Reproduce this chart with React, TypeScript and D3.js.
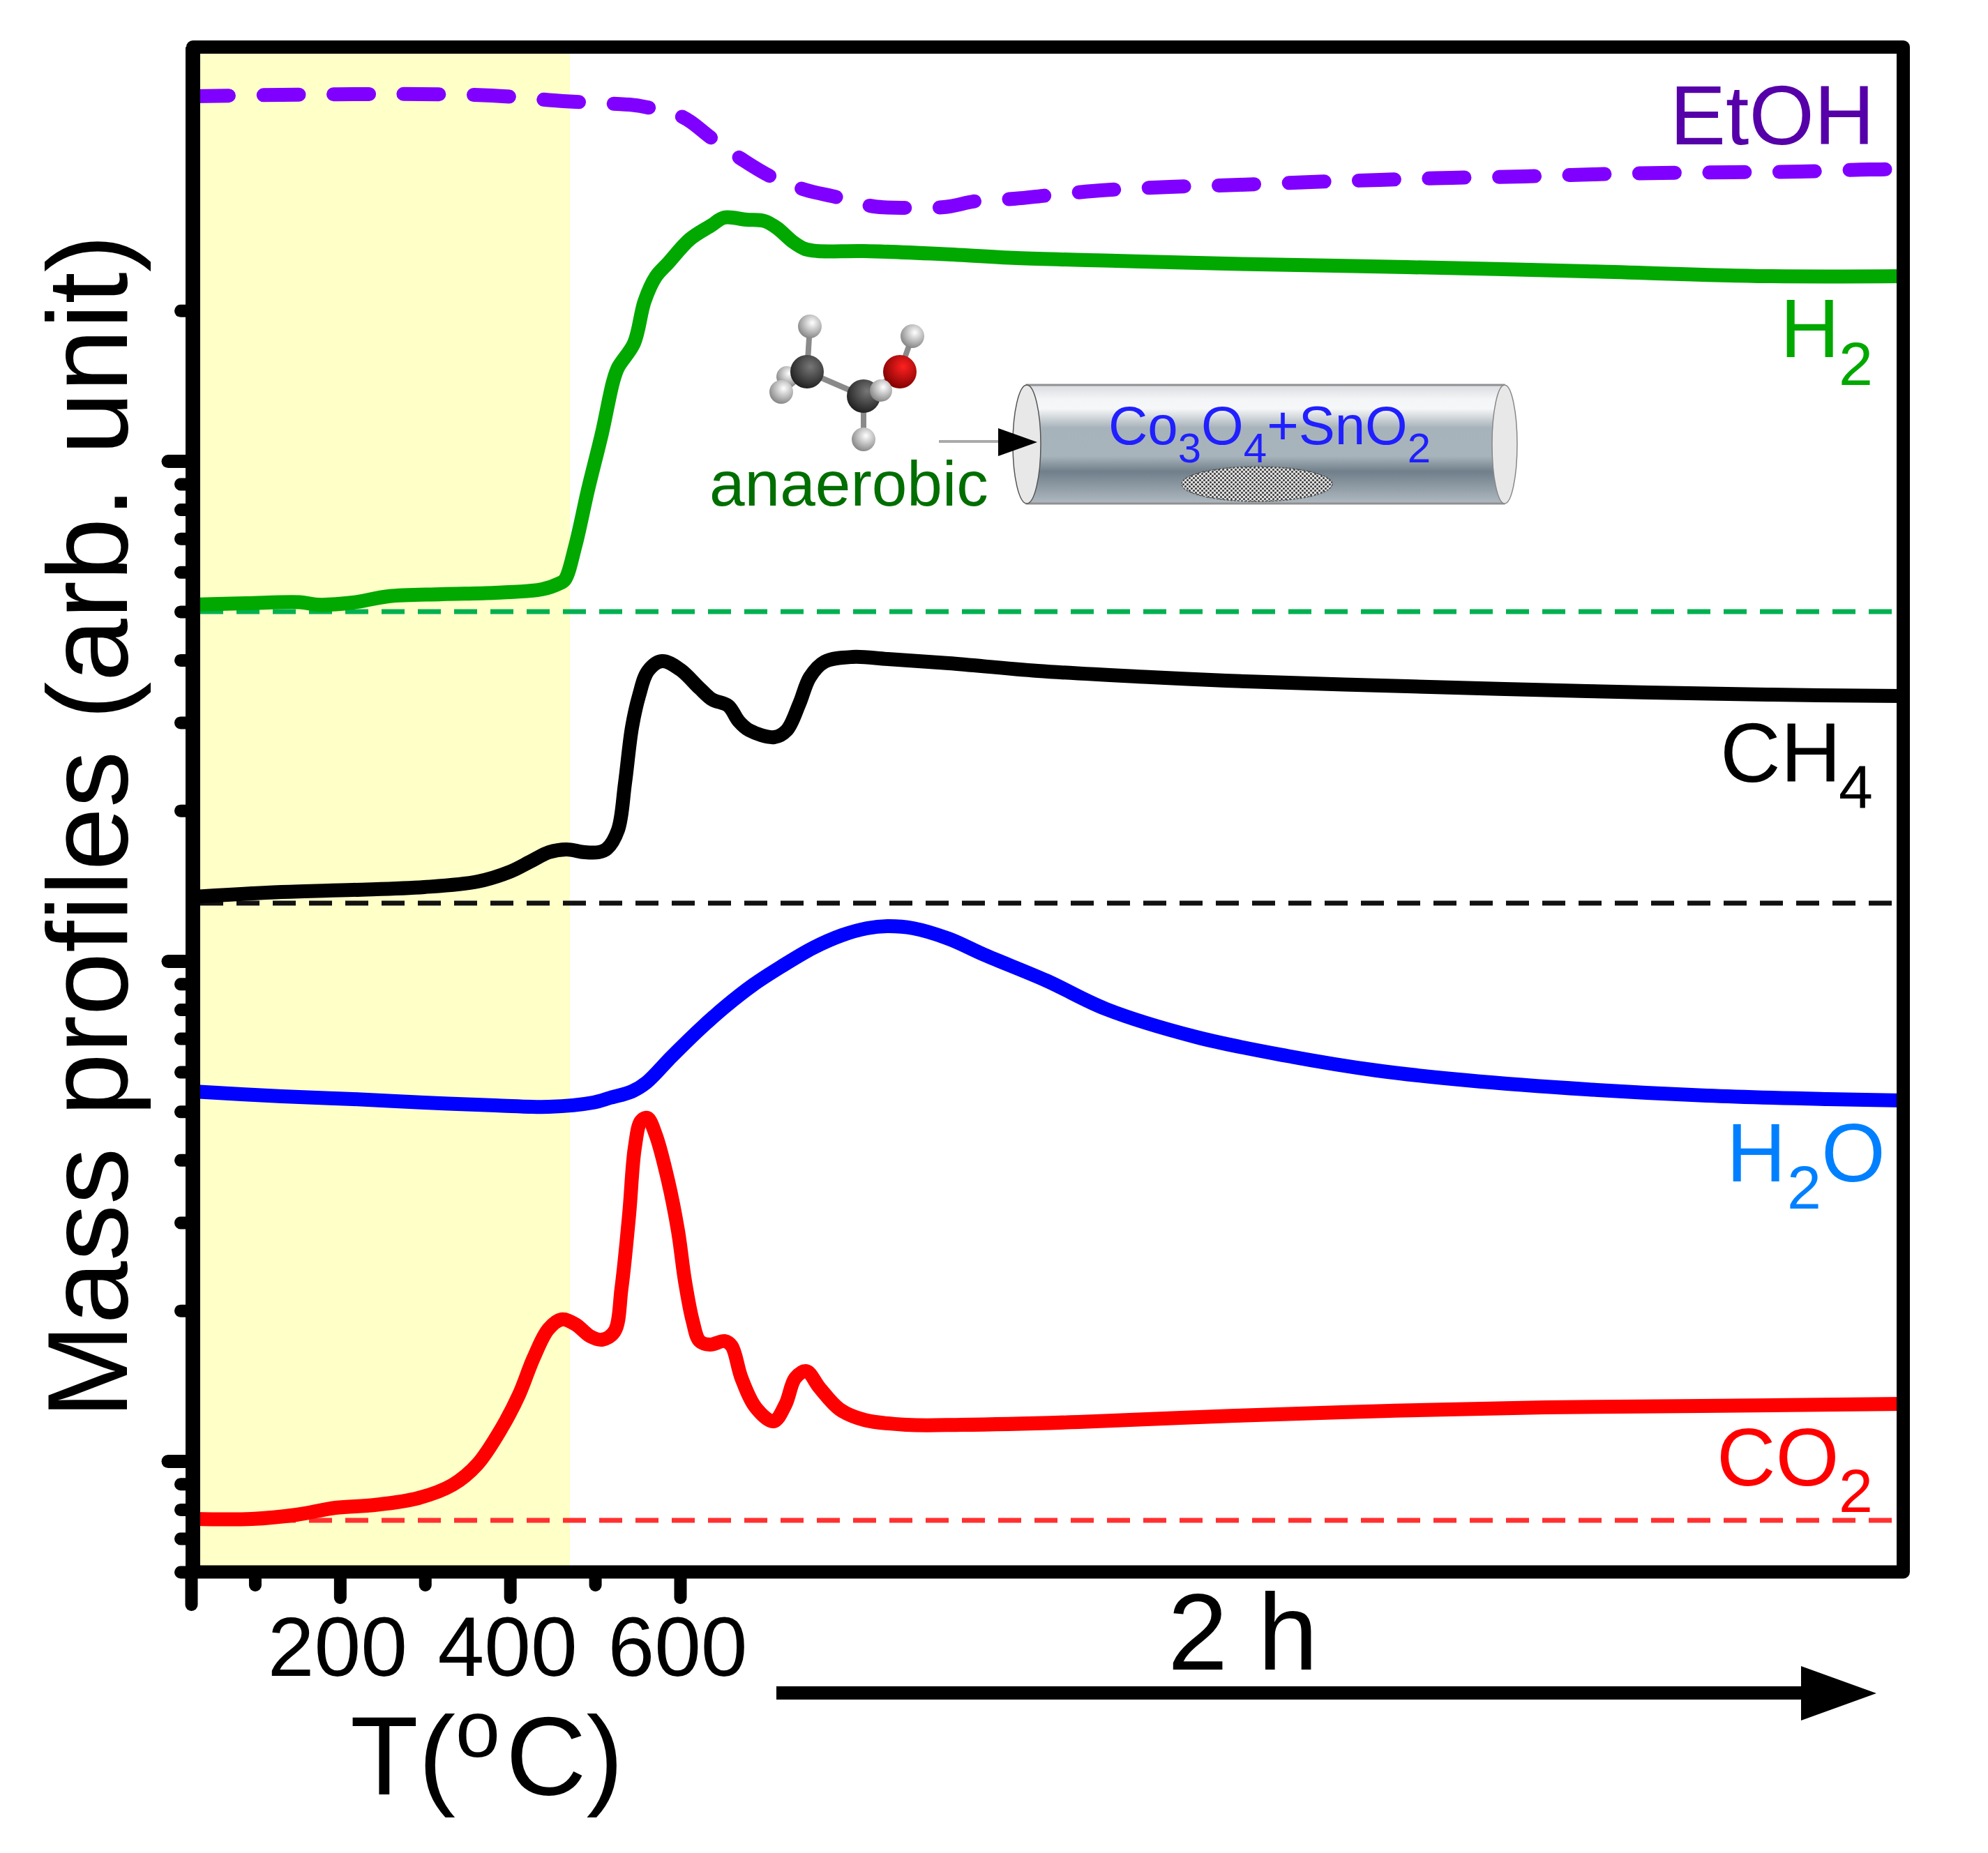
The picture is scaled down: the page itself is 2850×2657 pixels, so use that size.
import { useEffect, useRef } from "react";
import * as d3 from "d3";

type Pt = [number, number];

// x = position along the run (axis units), y = signal height (axis units)
const etohPoints: Pt[] = [[3,2116],[130,2118],[232,2119],[329,2119],[431,2117],[533,2109],[633,2103.5],[644,2102],[705,2086],[746,2056],[789,2026],[831,2001],[880,1982],[927,1971],[979,1958],[1028,1956],[1079,1957],[1128,1966],[1180,1969],[1229,1974],[1280,1979],[1304,1981],[1403,1986],[1502,1989],[1605,1993],[1704,1996],[1807,1999],[1911,2001],[2010,2004],[2109,2006],[2208,2007],[2307,2008],[2406,2011],[2454,2011]];
const h2Points: Pt[] = [[3,1387],[79,1389],[156,1390.5],[181,1387],[232,1390],[283,1399],[360,1402],[436,1404],[503,1409],[528,1417.5],[536,1423],[551,1472],[569,1552],[589,1633],[605,1707],[612,1727],[635,1762],[650,1822],[666,1857],[684,1877],[715,1911],[746,1931],[764,1942],[796,1939],[822,1937],[840,1927],[863,1907],[880,1897],[898,1894],[965,1894],[1072,1890],[1184,1884],[1326,1880],[1484,1876],[1743,1871],[2001,1865],[2260,1858],[2454,1858]];
const ch4Points: Pt[] = [[3,968],[130,975],[232,978],[334,982],[411,990],[457,1004],[487,1019],[513,1032],[538,1036],[564,1032],[584,1032],[596,1037],[612,1064],[622,1131],[632,1211],[642,1256],[655,1292],[675,1306],[701,1294],[729,1267],[747,1251],[770,1242],[785,1220],[800,1207],[836,1197],[854,1207],[872,1245],[887,1283],[908,1305],[948,1312],[999,1309],[1086,1303],[1214,1292],[1376,1283],[1484,1278],[1743,1270],[2001,1263],[2260,1258],[2454,1256]];
const h2oPoints: Pt[] = [[3,689],[130,682],[232,678],[334,673],[436,669],[513,667],[576,673],[601,680],[632,689],[653,702],[688,738],[729,778],[765,810],[806,842],[846,868],[892,895],[933,913],[969,923],[999,926],[1035,923],[1086,908],[1137,885],[1226,848],[1312,807],[1441,767],[1571,740],[1700,719],[1829,705],[2001,692],[2173,683],[2346,678],[2454,676]];
const co2Points: Pt[] = [[3,76],[87,76],[151,82],[207,92],[263,96],[326,106],[375,125],[410,154],[445,206],[470,254],[491,307],[512,348],[531,362],[551,355],[572,338],[589,333],[607,345],[617,407],[628,513],[636,608],[645,647],[654,651],[666,627],[684,560],[698,489],[708,417],[719,360],[729,331],[744,326],[765,331],[775,324],[789,278],[810,235],[835,216],[852,240],[866,278],[882,288],[901,264],[930,233],[965,218],[1026,211],[1105,211],[1272,215],[1496,224],[1719,231],[1942,236],[2165,238],[2454,241]];

// zero level of each trace
const baselines = [
  { height: 1377, color: "#00b050" },
  { height: 959, color: "#111111" },
  { height: 74, color: "#ff3030" },
];
const baselineRange = [13, 2440];

const tempFirst = [25];
const tempMajor = [200, 400, 600];
const tempMinor = [100, 300, 500];
const logMajor = [1, 10, 100];
const logMinor = [0.6, 0.7, 0.8, 0.9, 2, 3, 4, 5, 6, 7, 8, 9, 20, 30, 40, 50, 60, 70, 80, 90, 200];

const series = [
  { points: h2oPoints, color: "#0000ff", dash: null },
  { points: co2Points, color: "#ff0000", dash: null },
  { points: ch4Points, color: "#000000", dash: null },
  { points: h2Points, color: "#00a800", dash: null },
  { points: etohPoints, color: "#8000ff", dash: "51 49.5" },
];

const W = 2850;
const H = 2657;
const FRAME = { left: 276.5, right: 2728.5, top: 67.5, bottom: 2254 };
const FONT = "'Liberation Sans', Arial, sans-serif";

export default function App() {
  const svgRef = useRef<SVGSVGElement>(null);

  useEffect(() => {
    if (!svgRef.current) return;
    const svg = d3.select(svgRef.current);
    svg.selectAll("*").remove();

    const x = d3.scaleLinear().domain([0, 2455]).range([274, 2729]);
    const y = d3.scaleLinear().domain([0, 2186.5]).range([FRAME.bottom, FRAME.top]);
    const tempScale = d3.scaleLinear().domain([25, 600]).range([274, 975]);
    const logScale = d3.scaleLog().domain([0.6, 673]).range([FRAME.bottom, FRAME.top]);

    const defs = svg.append("defs");

    // heating zone
    svg.append("rect")
      .attr("x", FRAME.left).attr("y", FRAME.top)
      .attr("width", 817 - FRAME.left).attr("height", FRAME.bottom - FRAME.top)
      .attr("fill", "#ffffc8");

    // zero levels
    baselines.forEach(b => {
      svg.append("line")
        .attr("x1", x(baselineRange[0])).attr("x2", x(baselineRange[1]))
        .attr("y1", y(b.height)).attr("y2", y(b.height))
        .attr("stroke", b.color).attr("stroke-width", 7)
        .attr("stroke-dasharray", "33 19");
    });

    // traces
    const lineGen = d3.line<Pt>()
      .x(d => x(d[0])).y(d => y(d[1]))
      .curve(d3.curveCatmullRom.alpha(0.5));
    series.forEach(s => {
      const p = svg.append("path")
        .attr("d", lineGen(s.points))
        .attr("fill", "none")
        .attr("stroke", s.color)
        .attr("stroke-width", 20)
        .attr("stroke-linejoin", "round");
      if (s.dash) p.attr("stroke-dasharray", s.dash).attr("stroke-linecap", "round");
    });

    // frame
    svg.append("rect")
      .attr("x", FRAME.left).attr("y", FRAME.top)
      .attr("width", FRAME.right - FRAME.left).attr("height", FRAME.bottom - FRAME.top)
      .attr("fill", "none").attr("stroke", "#000").attr("stroke-width", 19)
      .attr("stroke-linejoin", "round");
    svg.append("line")
      .attr("x1", FRAME.left).attr("x2", FRAME.left)
      .attr("y1", FRAME.top).attr("y2", FRAME.bottom)
      .attr("stroke", "#000").attr("stroke-width", 21);

    // axes
    const styleAxis = (g: d3.Selection<SVGGElement, unknown, null, undefined>, w: number) => {
      g.select(".domain").remove();
      g.selectAll(".tick line")
        .attr("stroke", "#000").attr("stroke-width", w).attr("stroke-linecap", "round");
    };
    const xAxis = (vals: number[], size: number, labels: boolean) => {
      const g = svg.append("g").attr("transform", `translate(0,${FRAME.bottom})`);
      g.call(d3.axisBottom(tempScale).tickValues(vals).tickSize(size).tickPadding(27)
        .tickFormat(labels ? (d => String(d)) : () => ""));
      styleAxis(g, 18);
      g.selectAll(".tick text")
        .attr("x", -4)
        .attr("fill", "#000")
        .attr("font-family", FONT)
        .attr("font-size", 120);
    };
    xAxis(tempFirst, 47, false);
    xAxis(tempMajor, 37, true);
    xAxis(tempMinor, 19, false);

    const yAxis = (vals: number[], size: number, w: number) => {
      const g = svg.append("g").attr("transform", `translate(${FRAME.left},0)`);
      g.call(d3.axisLeft(logScale).tickValues(vals).tickSize(size).tickFormat(() => ""));
      styleAxis(g, w);
    };
    yAxis(logMajor, 35.5, 19);
    yAxis(logMinor, 17.5, 18);

    // texts
    const text = (s: string, tx: number, ty: number, size: number, color = "#000") =>
      svg.append("text")
        .attr("x", tx).attr("y", ty)
        .attr("font-family", FONT).attr("font-size", size).attr("fill", color)
        .text(s);

    text("EtOH", 2394, 207, 120, "#5500a8");
    text("H", 2552, 512, 118, "#00a800");
    text("2", 2636, 552, 88, "#00a800");
    text("CH", 2466, 1121, 120, "#000");
    text("4", 2636, 1159, 88, "#000");
    text("H", 2475, 1694, 118, "#0080ff");
    text("2", 2562, 1733, 88, "#0080ff");
    text("O", 2611, 1694, 118, "#0080ff");
    text("CO", 2461, 2130, 117, "#ff0000");
    text("2", 2636, 2168, 88, "#ff0000");

    text("2 h", 1674, 2394, 155);

    const tLabel = svg.append("text").attr("x", 502).attr("y", 2573)
      .attr("font-family", FONT).attr("font-size", 160).attr("fill", "#000");
    tLabel.append("tspan").text("T(");
    tLabel.append("tspan").attr("dy", -54).attr("font-size", 115).text("o");
    tLabel.append("tspan").attr("dy", 54).attr("dx", 8).text("C)");

    svg.append("text")
      .attr("transform", "translate(182,2034) rotate(-90)")
      .attr("font-family", FONT).attr("font-size", 162.5).attr("fill", "#000")
      .text("Mass profiles (arb. unit)");

    // 2 h arrow
    svg.append("rect").attr("x", 1113).attr("y", 2418).attr("width", 1470).attr("height", 19).attr("fill", "#000");
    svg.append("path").attr("d", "M2582,2389 L2690,2428 L2582,2467 Z").attr("fill", "#000");

    // reactor sketch
    const grad = defs.append("linearGradient").attr("id", "tube")
      .attr("x1", 0).attr("y1", 0).attr("x2", 0).attr("y2", 1);
    ([[0, "#d8dbe0"], [0.12, "#f4f5f6"], [0.2, "#f6f7f8"], [0.36, "#a7b3ba"], [0.6, "#a8b4bb"], [0.73, "#707f8b"], [1, "#b0b9c0"]] as [number, string][])
      .forEach(([o, c]) => grad.append("stop").attr("offset", o).attr("stop-color", c));

    const pat = defs.append("pattern").attr("id", "bed").attr("patternUnits", "userSpaceOnUse")
      .attr("width", 6).attr("height", 6);
    pat.append("rect").attr("width", 6).attr("height", 6).attr("fill", "#e0e0e0");
    pat.append("circle").attr("cx", 1.5).attr("cy", 1.5).attr("r", 1.5).attr("fill", "#333");
    pat.append("circle").attr("cx", 4.5).attr("cy", 4.5).attr("r", 1.5).attr("fill", "#333");

    svg.append("rect").attr("x", 1472).attr("y", 552).attr("width", 684).attr("height", 170)
      .attr("fill", "url(#tube)").attr("stroke", "#909090").attr("stroke-width", 3);
    svg.append("ellipse").attr("cx", 1472).attr("cy", 637).attr("rx", 20).attr("ry", 85)
      .attr("fill", "#e8e8e8").attr("stroke", "#555").attr("stroke-width", 1.5);
    svg.append("ellipse").attr("cx", 2157).attr("cy", 637).attr("rx", 18).attr("ry", 85)
      .attr("fill", "#e8e8e8").attr("stroke", "#888").attr("stroke-width", 1.5);
    svg.append("ellipse").attr("cx", 1802).attr("cy", 694).attr("rx", 108).attr("ry", 25)
      .attr("fill", "url(#bed)").attr("stroke", "#555").attr("stroke-width", 1.5)
      .attr("stroke-dasharray", "3 2");

    const formula = svg.append("text").attr("x", 1589).attr("y", 637)
      .attr("font-family", FONT).attr("font-size", 78).attr("fill", "#1f1fff");
    formula.append("tspan").text("Co");
    formula.append("tspan").attr("dy", 26).attr("font-size", 60).text("3");
    formula.append("tspan").attr("dy", -26).text("O");
    formula.append("tspan").attr("dy", 26).attr("font-size", 60).text("4");
    formula.append("tspan").attr("dy", -26).text("+SnO");
    formula.append("tspan").attr("dy", 26).attr("font-size", 60).text("2");

    text("anaerobic", 1017, 725, 91, "#006e00");

    svg.append("line").attr("x1", 1346).attr("x2", 1432).attr("y1", 633).attr("y2", 633)
      .attr("stroke", "#aaa").attr("stroke-width", 4);
    svg.append("path").attr("d", "M1431,614 L1487,634 L1431,654 Z").attr("fill", "#000");

    // ethanol molecule
    const ball = (id: string, light: string, dark: string) => {
      const g = defs.append("radialGradient").attr("id", id)
        .attr("cx", 0.6).attr("cy", 0.35).attr("r", 0.7);
      g.append("stop").attr("offset", 0).attr("stop-color", light);
      g.append("stop").attr("offset", 1).attr("stop-color", dark);
    };
    ball("atomH", "#ffffff", "#808080");
    ball("atomC", "#777777", "#1c1c1c");
    ball("atomO", "#ff2020", "#7a0000");

    const bonds = [
      [1161, 468, 1157, 533], [1157, 533, 1120, 562], [1157, 533, 1238, 568],
      [1238, 568, 1290, 533], [1290, 533, 1308, 482], [1238, 568, 1238, 630],
    ];
    bonds.forEach(([x1, y1, x2, y2]) => {
      svg.append("line").attr("x1", x1).attr("y1", y1).attr("x2", x2).attr("y2", y2)
        .attr("stroke", "#8a8a8a").attr("stroke-width", 8);
    });
    const atoms: [string, number, number, number][] = [
      ["atomH", 1128, 540, 15], ["atomH", 1120, 562, 17], ["atomH", 1161, 468, 17],
      ["atomC", 1157, 533, 24], ["atomH", 1308, 482, 17], ["atomO", 1290, 533, 24],
      ["atomC", 1238, 568, 24], ["atomH", 1263, 560, 16], ["atomH", 1238, 630, 17],
    ];
    atoms.forEach(([id, cx, cy, r]) => {
      svg.append("circle").attr("cx", cx).attr("cy", cy).attr("r", r).attr("fill", `url(#${id})`);
    });
  }, []);

  return (
    <svg
      ref={svgRef}
      width={W}
      height={H}
      viewBox={`0 0 ${W} ${H}`}
      style={{ position: "absolute", left: 0, top: 0, display: "block", background: "#fff" }}
    />
  );
}
